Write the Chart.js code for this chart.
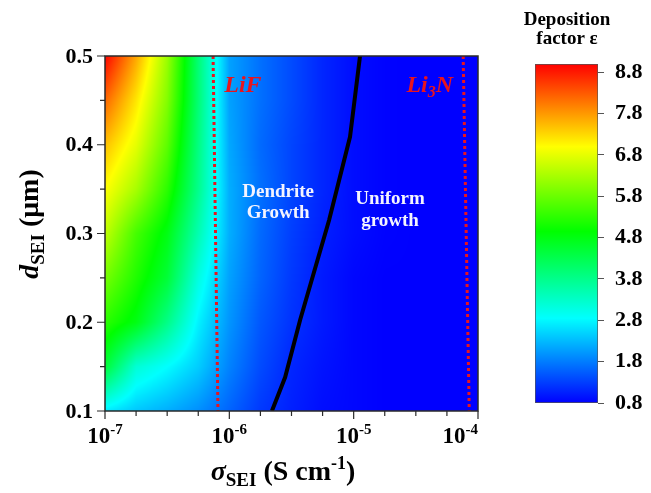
<!DOCTYPE html>
<html>
<head>
<meta charset="utf-8">
<script src="https://cdn.jsdelivr.net/npm/chart.js@4"></script>
<style>
  html, body { margin: 0; padding: 0; background: #fff; }
  #wrap { position: relative; width: 651px; height: 493px; }
  #main { position: absolute; left: 0; top: 0; }
  #bar { position: absolute; left: 520px; top: 0; }
</style>
</head>
<body>
<div id="wrap">
  <canvas id="main" width="651" height="493"></canvas>
  <canvas id="bar" width="131" height="493"></canvas>
</div>
<script>
// contour grid: columns are log10(sigma), rows are d_SEI in um
const sigmaExp = [-7, -6.75, -6.5, -6.25, -6, -5.75, -5.5, -5.25, -5, -4.75, -4.5, -4.25, -4];
const dRows = [0.5, 0.45, 0.4, 0.35, 0.3, 0.25, 0.2, 0.15, 0.1];
// deposition factor, one row per entry of dRows
const eps = [
  [9.0, 7.7, 6.2, 4.0, 2.1, 1.7, 1.4, 1.1, 0.9, 0.82, 0.8, 0.8, 0.8],
  [8.2, 7.2, 6.0, 4.0, 2.1, 1.7, 1.4, 1.1, 0.9, 0.82, 0.8, 0.8, 0.8],
  [7.5, 6.8, 5.7, 3.9, 2.15, 1.65, 1.35, 1.1, 0.9, 0.82, 0.8, 0.8, 0.8],
  [7.0, 6.3, 5.3, 3.8, 2.2, 1.7, 1.35, 1.1, 0.9, 0.82, 0.8, 0.8, 0.8],
  [6.5, 5.5, 4.8, 3.5, 2.2, 1.65, 1.3, 1.05, 0.9, 0.82, 0.8, 0.8, 0.8],
  [5.9, 5.2, 4.5, 3.1, 2.1, 1.6, 1.25, 1.0, 0.85, 0.8, 0.8, 0.8, 0.8],
  [5.3, 4.8, 3.85, 2.75, 2.0, 1.5, 1.2, 1.0, 0.85, 0.8, 0.8, 0.8, 0.8],
  [4.5, 3.2, 2.85, 2.45, 1.85, 1.4, 1.1, 0.95, 0.85, 0.8, 0.8, 0.8, 0.8],
  [2.7, 2.4, 2.2, 1.95, 1.6, 1.25, 1.05, 0.9, 0.85, 0.8, 0.8, 0.8, 0.8],
];

// black boundary between dendrite and uniform growth
const boundarySigma = [2.2e-6, 2.81e-6, 3.71e-6, 6.34e-6, 9.35e-6, 1.125e-5];
const boundaryD = [0.1, 0.138, 0.2025, 0.315, 0.409, 0.5];
// red dotted lines
const lifSigma = [7.4e-7, 8.1e-7];
const lifD = [0.5, 0.1];
const li3nSigma = [7.6e-5, 8.5e-5];
const li3nD = [0.5, 0.1];

// axes
const xMajorExp = [-7, -6, -5, -4];
const xMinorExp = [-6.75, -6.5, -6.25, -5.75, -5.5, -5.25, -4.75, -4.5, -4.25];
const yMajor = [0.1, 0.2, 0.3, 0.4, 0.5];
const yMinor = [0.15, 0.25, 0.35, 0.45];

// colour bar
const cbStops = [0.8, 2.85, 4.95, 7.0, 9.0];
const cbColors = [[0, 0, 255], [0, 255, 255], [0, 255, 0], [255, 255, 0], [255, 0, 0]];
const cbTicks = [0.8, 1.8, 2.8, 3.8, 4.8, 5.8, 6.8, 7.8, 8.8];

const SERIF = '"Liberation Serif", "Times New Roman", serif';

function colorFor(v) {
  if (v <= cbStops[0]) return cbColors[0];
  for (let i = 1; i < cbStops.length; i++) {
    if (v <= cbStops[i]) {
      const t = (v - cbStops[i - 1]) / (cbStops[i] - cbStops[i - 1]);
      const a = cbColors[i - 1], b = cbColors[i];
      return [a[0] + (b[0] - a[0]) * t, a[1] + (b[1] - a[1]) * t, a[2] + (b[2] - a[2]) * t];
    }
  }
  return cbColors[cbColors.length - 1];
}

function pairs(xs, ys) {
  return xs.map((x, i) => ({ x: x, y: ys[i] }));
}

function drawRuns(ctx, runs, x, y, align) {
  let w = 0;
  runs.forEach(r => { ctx.font = r.font; w += ctx.measureText(r.text).width; });
  let cx = align === 'center' ? x - w / 2 : align === 'right' ? x - w : x;
  runs.forEach(r => {
    ctx.font = r.font;
    ctx.fillText(r.text, cx, y + (r.dy || 0));
    cx += ctx.measureText(r.text).width;
  });
  return w;
}

// smooth-shaded map of eps, drawn pixel by pixel through the scales
const heatmap = {
  id: 'heatmap',
  beforeDatasetsDraw(chart) {
    const { ctx, chartArea: a, scales: { x, y } } = chart;
    const left = Math.round(a.left), top = Math.round(a.top);
    const w = Math.round(a.right) - left, h = Math.round(a.bottom) - top;
    const img = ctx.createImageData(w, h);
    const nC = sigmaExp.length, nR = dRows.length;
    for (let py = 0; py < h; py++) {
      const d = y.getValueForPixel(top + py + 0.5);
      let r = 0;
      while (r < nR - 2 && d < dRows[r + 1]) r++;
      let u = (dRows[r] - d) / (dRows[r] - dRows[r + 1]);
      u = Math.max(0, Math.min(1, u));
      for (let px = 0; px < w; px++) {
        const e = Math.log10(x.getValueForPixel(left + px + 0.5));
        let c = 0;
        while (c < nC - 2 && e > sigmaExp[c + 1]) c++;
        let t = (e - sigmaExp[c]) / (sigmaExp[c + 1] - sigmaExp[c]);
        t = Math.max(0, Math.min(1, t));
        const top_ = eps[r][c] * (1 - t) + eps[r][c + 1] * t;
        const bot_ = eps[r + 1][c] * (1 - t) + eps[r + 1][c + 1] * t;
        const col = colorFor(top_ * (1 - u) + bot_ * u);
        const k = (py * w + px) * 4;
        img.data[k] = col[0];
        img.data[k + 1] = col[1];
        img.data[k + 2] = col[2];
        img.data[k + 3] = 255;
      }
    }
    ctx.putImageData(img, left, top);
  }
};

const decorations = {
  id: 'decorations',
  afterDraw(chart) {
    const { ctx, chartArea: a, scales: { x, y } } = chart;
    ctx.save();
    ctx.textAlign = 'left';
    ctx.textBaseline = 'alphabetic';

    // in-plot labels
    ctx.fillStyle = '#e8141e';
    drawRuns(ctx, [{ text: 'LiF', font: 'italic bold 24px ' + SERIF }],
      x.getPixelForValue(9.1e-7), y.getPixelForValue(0.459), 'left');
    drawRuns(ctx, [
      { text: 'Li', font: 'italic bold 24px ' + SERIF },
      { text: '3', font: 'italic bold 16px ' + SERIF, dy: 5 },
      { text: 'N', font: 'italic bold 24px ' + SERIF }
    ], x.getPixelForValue(6.3e-5), y.getPixelForValue(0.459), 'right');
    ctx.fillStyle = '#f4f4ff';
    const lf = 'bold 19px ' + SERIF;
    drawRuns(ctx, [{ text: 'Dendrite', font: lf }], x.getPixelForValue(2.47e-6), y.getPixelForValue(0.341), 'center');
    drawRuns(ctx, [{ text: 'Growth', font: lf }], x.getPixelForValue(2.47e-6), y.getPixelForValue(0.3174), 'center');
    drawRuns(ctx, [{ text: 'Uniform', font: lf }], x.getPixelForValue(1.96e-5), y.getPixelForValue(0.333), 'center');
    drawRuns(ctx, [{ text: 'growth', font: lf }], x.getPixelForValue(1.96e-5), y.getPixelForValue(0.3084), 'center');

    // frame
    ctx.strokeStyle = '#2a2a2a';
    ctx.lineWidth = 1.5;
    ctx.strokeRect(a.left, a.top, a.right - a.left, a.bottom - a.top);

    // ticks
    ctx.lineWidth = 1.2;
    ctx.beginPath();
    xMajorExp.forEach(e => { const px = x.getPixelForValue(10 ** e); ctx.moveTo(px, a.bottom); ctx.lineTo(px, a.bottom + 8); });
    xMinorExp.forEach(e => { const px = x.getPixelForValue(10 ** e); ctx.moveTo(px, a.bottom); ctx.lineTo(px, a.bottom + 5); });
    yMajor.forEach(v => { const py = y.getPixelForValue(v); ctx.moveTo(a.left, py); ctx.lineTo(a.left - 8, py); });
    yMinor.forEach(v => { const py = y.getPixelForValue(v); ctx.moveTo(a.left, py); ctx.lineTo(a.left - 5, py); });
    ctx.stroke();

    // tick labels
    ctx.fillStyle = '#000';
    yMajor.forEach(v => {
      ctx.textBaseline = 'middle';
      drawRuns(ctx, [{ text: v.toFixed(1), font: 'bold 22px ' + SERIF }], a.left - 12, y.getPixelForValue(v) + 1, 'right');
    });
    ctx.textBaseline = 'alphabetic';
    xMajorExp.forEach(e => {
      const runs = [
        { text: '10', font: 'bold 23px ' + SERIF },
        { text: String(e), font: 'bold 15px ' + SERIF, dy: -9 }
      ];
      let w = 0;
      runs.forEach(r => { ctx.font = r.font; w += ctx.measureText(r.text).width; });
      let cx = x.getPixelForValue(10 ** e);
      cx = Math.min(cx, a.right - w / 2);
      drawRuns(ctx, runs, cx, a.bottom + 32, 'center');
    });

    // axis titles
    drawRuns(ctx, [
      { text: 'σ', font: 'italic bold 28px ' + SERIF },
      { text: 'SEI', font: 'bold 19px ' + SERIF, dy: 6 },
      { text: ' (S cm', font: 'bold 28px ' + SERIF },
      { text: '-1', font: 'bold 18px ' + SERIF, dy: -11 },
      { text: ')', font: 'bold 28px ' + SERIF }
    ], 283, 480, 'center');

    ctx.translate(38, 224);
    ctx.rotate(-Math.PI / 2);
    drawRuns(ctx, [
      { text: 'd', font: 'italic bold 28px ' + SERIF },
      { text: 'SEI', font: 'bold 19px ' + SERIF, dy: 6 },
      { text: ' (μm)', font: 'bold 28px ' + SERIF }
    ], 0, 0, 'center');
    ctx.restore();
  }
};

new Chart(document.getElementById('main'), {
  type: 'scatter',
  data: {
    datasets: [
      {
        data: pairs(lifSigma, lifD), showLine: true, borderColor: '#e8141e',
        borderWidth: 3, borderDash: [3, 3], pointRadius: 0
      },
      {
        data: pairs(li3nSigma, li3nD), showLine: true, borderColor: '#e8141e',
        borderWidth: 3, borderDash: [3, 3], pointRadius: 0
      },
      {
        data: pairs(boundarySigma, boundaryD), showLine: true, borderColor: '#000',
        borderWidth: 4, pointRadius: 0
      }
    ]
  },
  options: {
    responsive: false,
    animation: false,
    events: [],
    layout: { padding: { top: 56, right: 173, left: 0, bottom: 0 } },
    plugins: { legend: { display: false }, tooltip: { enabled: false } },
    scales: {
      x: {
        type: 'logarithmic', min: 1e-7, max: 1e-4,
        ticks: { display: false }, grid: { display: false }, border: { display: false },
        afterFit(s) { s.height = 82; }
      },
      y: {
        type: 'linear', min: 0.1, max: 0.5,
        ticks: { display: false }, grid: { display: false }, border: { display: false },
        afterFit(s) { s.width = 105; }
      }
    }
  },
  plugins: [heatmap, decorations]
});

// colour bar as a floating bar on its own scale
const cbTitle = {
  id: 'cbTitle',
  afterDraw(chart) {
    const { ctx } = chart;
    ctx.save();
    ctx.fillStyle = '#000';
    ctx.textAlign = 'center';
    ctx.font = 'bold 19px ' + SERIF;
    ctx.fillText('Deposition', 47, 25);
    ctx.fillText('factor ε', 47, 44);
    ctx.restore();
  }
};

new Chart(document.getElementById('bar'), {
  type: 'bar',
  data: {
    labels: [''],
    datasets: [{
      data: [[cbStops[0], cbStops[cbStops.length - 1]]],
      backgroundColor(c) {
        const chart = c.chart;
        if (!chart.chartArea) return '#00f';
        const ys = chart.scales.y;
        const p0 = ys.getPixelForValue(cbStops[0]);
        const p1 = ys.getPixelForValue(cbStops[cbStops.length - 1]);
        const g = chart.ctx.createLinearGradient(0, p0, 0, p1);
        cbStops.forEach((v, i) => {
          const col = cbColors[i];
          g.addColorStop((v - cbStops[0]) / (cbStops[cbStops.length - 1] - cbStops[0]),
            'rgb(' + col.join(',') + ')');
        });
        return g;
      },
      borderColor: '#555',
      borderWidth: 1,
      borderSkipped: false,
      barPercentage: 1,
      categoryPercentage: 1
    }]
  },
  options: {
    responsive: false,
    animation: false,
    events: [],
    layout: { padding: { left: 15, top: 64, bottom: 90, right: 0 } },
    plugins: { legend: { display: false }, tooltip: { enabled: false } },
    scales: {
      x: { display: false },
      y: {
        position: 'right',
        min: cbStops[0], max: cbStops[cbStops.length - 1],
        afterBuildTicks(s) { s.ticks = cbTicks.map(v => ({ value: v })); },
        ticks: {
          color: '#000', padding: 11,
          font: { family: SERIF, size: 22, weight: 'bold' },
          callback: v => v.toFixed(1)
        },
        grid: { drawOnChartArea: false, tickLength: 6, color: '#555' },
        border: { display: false },
        afterFit(s) { s.width = 53; }
      }
    }
  },
  plugins: [cbTitle]
});
</script>
</body>
</html>
